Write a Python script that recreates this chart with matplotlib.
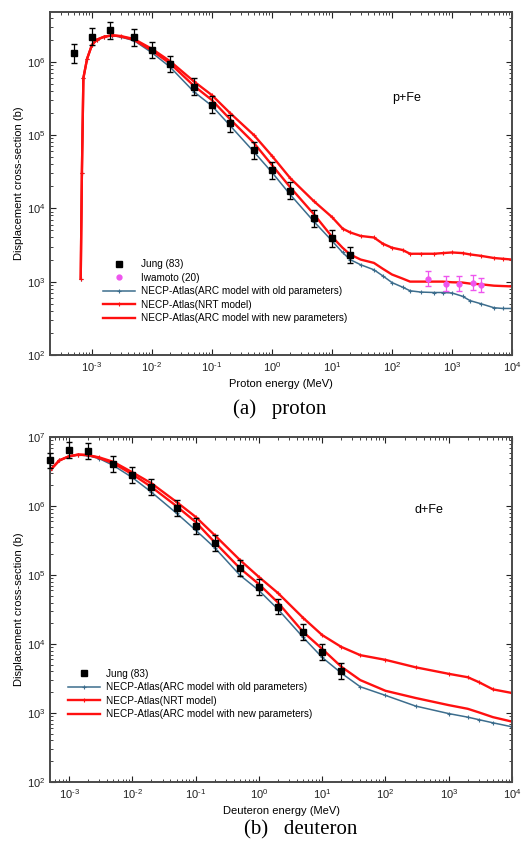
import matplotlib
matplotlib.use("Agg")
import numpy as np
import matplotlib.pyplot as plt
from matplotlib.lines import Line2D
from matplotlib.ticker import FuncFormatter, NullFormatter

plt.rcParams['font.family'] = ['Liberation Sans', 'DejaVu Sans']
plt.rcParams['mathtext.fontset'] = 'custom'
plt.rcParams['mathtext.rm'] = 'Liberation Sans'
plt.rcParams['mathtext.default'] = 'regular'
plt.rcParams['axes.unicode_minus'] = False

# ---------------- proton (p+Fe) ----------------
p_jung_x = [5e-4, 1e-3, 2e-3, 5e-3, 1e-2, 2e-2, 5e-2, 0.1, 0.2, 0.5, 1, 2, 5, 10, 20]
p_jung_y = [1.3e6, 2.2e6, 2.7e6, 2.15e6, 1.45e6, 9.3e5, 4.6e5, 2.6e5, 1.45e5, 6.2e4,
            3.3e4, 1.75e4, 7.3e3, 3.9e3, 2.3e3]
p_jung_rel = [0.33, 0.3, 0.3, 0.3, 0.3, 0.3, 0.3, 0.3, 0.3, 0.3, 0.3, 0.3, 0.3, 0.3, 0.3]

p_iwa_x = [400, 800, 1300, 2200, 3000]
p_iwa_y = [1.1e3, 0.94e3, 0.94e3, 0.97e3, 0.91e3]
p_iwa_rel = [0.25, 0.25, 0.25, 0.25, 0.25]

p_x = [6.5e-4, 6.8e-4, 7.2e-4, 8.3e-4, 1e-3, 1.2e-3, 1.6e-3, 2.2e-3, 3e-3, 5e-3, 1e-2,
       2e-2, 5e-2, 0.1, 0.2, 0.5, 1, 2, 5, 10, 15, 20, 30, 50, 70, 100, 150, 200, 300,
       500, 700, 1000, 1500, 2000, 3000, 5000, 7000, 10000]
p_nrt = [1.1e3, 3e4, 6e5, 1.1e6, 1.7e6, 2.0e6, 2.2e6, 2.3e6, 2.25e6, 2.05e6, 1.5e6,
         1.02e6, 5.4e5, 3.5e5, 2.0e5, 1.0e5, 5.2e4, 2.6e4, 1.25e4, 7.6e3, 5.3e3, 4.7e3,
         4.2e3, 4.0e3, 3.3e3, 2.9e3, 2.7e3, 2.4e3, 2.4e3, 2.4e3, 2.45e3, 2.5e3, 2.45e3,
         2.35e3, 2.25e3, 2.1e3, 2.05e3, 2.0e3]
p_arc_new = [1.1e3, 3e4, 6e5, 1.1e6, 1.7e6, 2.0e6, 2.2e6, 2.3e6, 2.22e6, 2.0e6, 1.42e6,
             9.5e5, 4.7e5, 3.0e5, 1.65e5, 7.8e4, 3.9e4, 1.95e4, 8.3e3, 4.1e3, 2.9e3,
             2.35e3, 2.0e3, 1.8e3, 1.5e3, 1.25e3, 1.1e3, 1.0e3, 1.0e3, 1.0e3, 1.0e3,
             0.98e3, 0.97e3, 0.94e3, 0.92e3, 0.88e3, 0.87e3, 0.86e3]
p_arc_old = [1.1e3, 3e4, 6e5, 1.1e6, 1.7e6, 2.0e6, 2.2e6, 2.28e6, 2.18e6, 1.95e6, 1.33e6,
             8.5e5, 3.9e5, 2.5e5, 1.35e5, 5.9e4, 3.1e4, 1.55e4, 6.6e3, 3.6e3, 2.5e3,
             2.0e3, 1.7e3, 1.45e3, 1.2e3, 0.97e3, 0.84e3, 0.75e3, 0.72e3, 0.71e3, 0.71e3,
             0.70e3, 0.63e3, 0.55e3, 0.50e3, 0.44e3, 0.43e3, 0.43e3]

p_xticks = [1e-3, 1e-2, 1e-1, 1, 10, 100, 1e3, 1e4]
p_yticks = [1e2, 1e3, 1e4, 1e5, 1e6]

# ---------------- deuteron (d+Fe) ----------------
d_jung_x = [5e-4, 1e-3, 2e-3, 5e-3, 1e-2, 2e-2, 5e-2, 0.1, 0.2, 0.5, 1, 2, 5, 10, 20]
d_jung_y = [4.6e6, 6.5e6, 6.3e6, 4.1e6, 2.8e6, 1.9e6, 9.4e5, 5.2e5, 2.9e5, 1.26e5,
            6.7e4, 3.5e4, 1.5e4, 7.6e3, 4.1e3]
d_jung_rel = [0.3, 0.3, 0.3, 0.3, 0.3, 0.3, 0.3, 0.3, 0.3, 0.3, 0.3, 0.3, 0.3, 0.3, 0.3]

d_x = [5e-4, 7e-4, 1e-3, 1.4e-3, 2e-3, 3e-3, 5e-3, 1e-2, 2e-2, 5e-2, 0.1, 0.2, 0.5, 1,
       2, 5, 10, 20, 40, 100, 300, 1000, 2000, 3000, 5000, 10000]
d_nrt = [3.3e6, 4.6e6, 5.3e6, 5.6e6, 5.5e6, 5.1e6, 4.4e6, 3.1e6, 2.15e6, 1.15e6, 7e5,
         3.8e5, 1.66e5, 9.4e4, 5.5e4, 2.4e4, 1.35e4, 9.1e3, 6.9e3, 5.9e3, 4.6e3, 3.7e3,
         3.3e3, 2.8e3, 2.2e3, 1.95e3]
d_arc_new = [3.3e6, 4.6e6, 5.3e6, 5.6e6, 5.5e6, 5.0e6, 4.2e6, 2.9e6, 1.9e6, 1.0e6, 5.9e5,
             3.0e5, 1.26e5, 7.4e4, 4.0e4, 1.5e4, 8.5e3, 4.7e3, 3.0e3, 2.1e3, 1.65e3,
             1.3e3, 1.15e3, 1.02e3, 0.87e3, 0.75e3]
d_arc_old = [3.3e6, 4.6e6, 5.3e6, 5.5e6, 5.4e6, 4.9e6, 3.9e6, 2.6e6, 1.6e6, 7.9e5, 4.5e5,
             2.5e5, 1.0e5, 6e4, 3.2e4, 1.25e4, 6.4e3, 3.8e3, 2.4e3, 1.8e3, 1.26e3,
             0.98e3, 0.87e3, 0.8e3, 0.72e3, 0.63e3]

d_xticks = [1e-3, 1e-2, 1e-1, 1, 10, 100, 1e3, 1e4]
d_yticks = [1e2, 1e3, 1e4, 1e5, 1e6, 1e7]

BLUE = '#3c6d8d'
RED = '#ff1010'
VIOLET = '#ee55ee'
lbl_old = 'NECP-Atlas(ARC model with old parameters)'
lbl_nrt = 'NECP-Atlas(NRT model)'
lbl_new = 'NECP-Atlas(ARC model with new parameters)'


def errs(y, rel):
    return [[v - v / (1 + r) for v, r in zip(y, rel)], [v * r for v, r in zip(y, rel)]]


def pow10(v, pos):
    # 10^n with a plain hyphen for negative exponents, like the original
    e = int(round(np.log10(v)))
    return r'$10^{\text{%d}}$' % e


def style_axes(ax, xt, yt):
    ax.set_xscale('log')
    ax.set_yscale('log')
    ax.set_xticks(xt)
    ax.set_yticks(yt)
    for s in ax.spines.values():
        s.set_color('#4a4a4a')
        s.set_linewidth(1.4)
    ax.tick_params(which='both', direction='in', top=True, right=True,
                   labelsize=8, colors='#222222')
    ax.tick_params(which='major', length=4)
    ax.tick_params(which='minor', length=2)
    for a in (ax.xaxis, ax.yaxis):
        a.set_major_formatter(FuncFormatter(pow10))
        a.set_minor_formatter(NullFormatter())
    ax.set_ylabel('Displacement cross-section (b)', fontsize=8, labelpad=2)


def curves(ax, x, old, nrt, new):
    h1, = ax.plot(x, old, color=BLUE, lw=1.1, marker='+', ms=3, mew=0.8, label=lbl_old)
    h2, = ax.plot(x, nrt, color=RED, lw=1.7, marker='+', ms=3.5, mew=0.8, label=lbl_nrt)
    h3, = ax.plot(x, new, color=RED, lw=1.7, label=lbl_new)
    return [h1, h2, h3]


jung_h = Line2D([], [], ls='none', marker='s', color='black', ms=4, label='Jung (83)')
iwa_h = Line2D([], [], ls='none', marker='o', color=VIOLET, ms=3.5, label='Iwamoto (20)')

fig = plt.figure(figsize=(5.23, 8.49), dpi=100)

# --- panel (a)
ax1 = fig.add_axes([0.0956, 0.582, 0.8834, 0.404])
style_axes(ax1, p_xticks, p_yticks)
hs = curves(ax1, p_x, p_arc_old, p_nrt, p_arc_new)
ax1.errorbar(p_jung_x, p_jung_y, yerr=errs(p_jung_y, p_jung_rel), fmt='s', color='black',
             ms=4, elinewidth=0.9, capsize=2, zorder=5)
ax1.errorbar(p_iwa_x, p_iwa_y, yerr=errs(p_iwa_y, p_iwa_rel), fmt='o', color=VIOLET,
             ms=3.5, elinewidth=0.9, capsize=2, zorder=5)
ax1.set_xlim(2.0e-4, 1e4)
ax1.set_ylim(100, 4.8e6)
ax1.set_xlabel('Proton energy (MeV)', fontsize=8, labelpad=4)
ax1.text(0.74, 0.74, 'p+Fe', transform=ax1.transAxes, fontsize=9)
ax1.legend(handles=[jung_h, iwa_h] + hs, loc='upper left', bbox_to_anchor=(0.095, 0.305),
           frameon=False, fontsize=7.2, handlelength=3.2, labelspacing=0.35,
           handletextpad=0.6)
fig.text(0.535, 0.518, '(a)   proton', ha='center', va='center', fontsize=15,
         family=['Liberation Serif', 'DejaVu Serif'])

# --- panel (b)
ax2 = fig.add_axes([0.0956, 0.079, 0.8834, 0.406])
style_axes(ax2, d_xticks, d_yticks)
hs = curves(ax2, d_x, d_arc_old, d_nrt, d_arc_new)
ax2.errorbar(d_jung_x, d_jung_y, yerr=errs(d_jung_y, d_jung_rel), fmt='s', color='black',
             ms=4, elinewidth=0.9, capsize=2, zorder=5, clip_on=False)
ax2.set_xlim(5e-4, 1e4)
ax2.set_ylim(100, 1e7)
ax2.set_xlabel('Deuteron energy (MeV)', fontsize=8, labelpad=4)
ax2.text(0.79, 0.78, 'd+Fe', transform=ax2.transAxes, fontsize=9)
ax2.legend(handles=[jung_h] + hs, loc='upper left', bbox_to_anchor=(0.02, 0.355),
           frameon=False, fontsize=7.2, handlelength=3.2, labelspacing=0.35,
           handletextpad=0.6)
fig.text(0.575, 0.022, '(b)   deuteron', ha='center', va='center', fontsize=15,
         family=['Liberation Serif', 'DejaVu Serif'])

fig.savefig('out.png', dpi=100)
